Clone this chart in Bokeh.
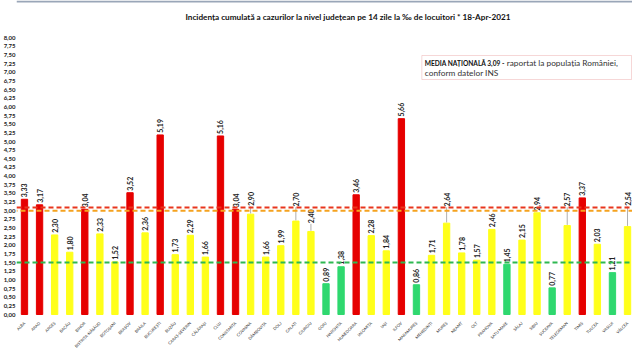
from math import pi
from bokeh.plotting import figure
from bokeh.models import (ColumnDataSource, Range1d, FixedTicker, Span, Label,
                          BoxAnnotation, CustomJSTickFormatter)
from bokeh.core.properties import value
from bokeh.embed import file_html
from bokeh.resources import INLINE

# ---------------- data ----------------
counties = ["ALBA", "ARAD", "ARGEȘ", "BACĂU", "BIHOR", "BISTRIȚA-NĂSĂUD",
            "BOTOȘANI", "BRAȘOV", "BRĂILA", "BUCUREȘTI", "BUZĂU",
            "CARAȘ-SEVERIN", "CĂLĂRAȘI", "CLUJ", "CONSTANȚA", "COVASNA",
            "DÂMBOVIȚA", "DOLJ", "GALAȚI", "GIURGIU", "GORJ", "HARGHITA",
            "HUNEDOARA", "IALOMIȚA", "IAȘI", "ILFOV", "MARAMUREȘ",
            "MEHEDINȚI", "MUREȘ", "NEAMȚ", "OLT", "PRAHOVA", "SATU MARE",
            "SĂLAJ", "SIBIU", "SUCEAVA", "TELEORMAN", "TIMIȘ", "TULCEA",
            "VASLUI", "VÂLCEA"]
incidence = [3.33, 3.17, 2.30, 1.80, 3.04, 2.33, 1.52, 3.52, 2.36, 5.19,
             1.73, 2.29, 1.66, 5.16, 3.04, 2.90, 1.66, 1.99, 2.70, 2.40,
             0.89, 1.38, 3.46, 2.28, 1.84, 5.66, 0.86, 1.71, 2.64, 1.78,
             1.57, 2.46, 1.45, 2.15, 2.94, 0.77, 2.57, 3.37, 2.03, 1.21,
             2.54]
national_avg = 3.09
red_threshold = 3.0
green_threshold = 1.5
y_ticks = [i * 0.25 for i in range(33)]

# ---------------- style / layout ----------------
RED, YELLOW, GREEN = "#e60000", "#ffff1a", "#2fd86f"
FONT = value("Lato")
label_lift = {"COVASNA": 3.14, "GALAȚI": 3.12, "GIURGIU": 2.64,
              "MUREȘ": 3.12, "TELEORMAN": 3.12, "VÂLCEA": 3.14}

W, H = 632, 351
PAGE_OFF = 0            # figure is rendered at the page origin
BORDER_L = 15
X_START, X_END = -0.53, 40.33
PX_PER_UNIT = 34.6
ZERO_PAGE_Y = 314
_fl, _fr = PAGE_OFF + BORDER_L, PAGE_OFF + W
_ft, _fb = PAGE_OFF, PAGE_OFF + H
Y_TOP = (ZERO_PAGE_Y - _ft) / PX_PER_UNIT
Y_BOTTOM = -(_fb - ZERO_PAGE_Y) / PX_PER_UNIT

def ax(px):
    return X_START + (px - _fl) * (X_END - X_START) / (_fr - _fl)
def ay(py):
    return (ZERO_PAGE_Y - py) / PX_PER_UNIT

def bar_color(v):
    if v > red_threshold:
        return RED
    if v >= green_threshold:
        return YELLOW
    return GREEN

xs = list(range(len(counties)))
labels = [f"{v:.2f}".replace(".", ",") for v in incidence]
label_y = [label_lift.get(c, v + 0.06) for c, v in zip(counties, incidence)]
src = ColumnDataSource(dict(x=xs, v=incidence, color=[bar_color(v) for v in incidence],
                            lab=labels, ly=label_y, name=counties,
                            ny=[ay(ZERO_PAGE_Y + 8)] * len(counties)))

lead = [(i, v, label_lift[c]) for i, (c, v) in enumerate(zip(counties, incidence)) if c in label_lift]
lead_src = ColumnDataSource(dict(x=[a for a, _, _ in lead], y0=[b + 0.02 for _, b, _ in lead],
                                 y1=[c - 0.02 for _, _, c in lead]))

p = figure(width=W, height=H, output_backend="svg", toolbar_location=None,
           x_range=Range1d(X_START, X_END), y_range=Range1d(Y_BOTTOM, Y_TOP),
           min_border_top=0, min_border_right=0, min_border_left=BORDER_L,
           min_border_bottom=0)
p.outline_line_color = None
p.xgrid.visible = False
p.ygrid.visible = False
p.xaxis.visible = False
p.background_fill_color = "white"

p.vbar(x="x", top="v", bottom=0, width=0.42, color="color", source=src)

p.segment(x0="x", y0="y0", x1="x", y1="y1", line_color="#9a9a9a", line_width=0.8, source=lead_src)

p.text(x="x", y="ly", text="lab", angle=pi / 2, text_align="left",
       text_baseline="middle", text_font=FONT, text_font_style="bold",
       text_font_size="7px", text_color="#222222", source=src)

# county names under the bars (category axis labels)
p.text(x="x", y="ny", text="name", angle=pi / 4, text_align="right",
       text_baseline="middle", text_font=FONT, text_font_size="4px",
       text_color="#333333", source=src)

# reference lines
p.add_layout(Span(location=red_threshold, dimension="width", line_color="#f5a21f",
                  line_width=2, line_dash="5 3", line_dash_offset=4))
p.add_layout(Span(location=national_avg, dimension="width", line_color="#e8361d",
                  line_width=2, line_dash="5 3"))
p.add_layout(Span(location=green_threshold, dimension="width", line_color="#2eb851",
                  line_width=2, line_dash="5 3"))
p.add_layout(Span(location=Y_TOP - 0.03, dimension="width", line_color="#9aa6b8", line_width=2))

# y axis
p.yaxis.ticker = FixedTicker(ticks=y_ticks)
p.yaxis.formatter = CustomJSTickFormatter(code="return tick.toFixed(2).replace('.', ',');")
p.yaxis.major_label_text_font_size = "6px"
p.yaxis.major_label_text_font = "Lato"
p.yaxis.major_label_text_font_style = "bold"
p.yaxis.major_label_text_color = "#222222"
p.yaxis.major_label_standoff = 1
p.yaxis.axis_line_color = None
p.yaxis.major_tick_line_color = None
p.yaxis.major_tick_out = 0
p.yaxis.major_tick_in = 0
p.yaxis.minor_tick_line_color = None

# title
p.add_layout(Label(x=ax(353), y=ay(16), text="Incidența cumulată a cazurilor la nivel județean pe 14 zile   la ‰ de locuitori   *   18-Apr-2021",
                   text_align="center", text_baseline="middle", text_font="Lato",
                   text_font_style="bold", text_font_size="8.2px", text_color="#111111"))

# national average note box
p.add_layout(BoxAnnotation(left=ax(421), right=ax(631), top=ay(55), bottom=ay(79),
                           fill_color="white", fill_alpha=1.0,
                           line_color="#e07a7a", line_width=1))
p.add_layout(Label(x=ax(424), y=ay(62), text="MEDIA NAȚIONALĂ 3,09 -", text_align="left",
                   text_baseline="middle", text_font="Lato", text_font_style="bold",
                   text_font_size="6.6px", text_color="#111111"))
p.add_layout(Label(x=ax(506), y=ay(62), text="raportat la populația României,", text_align="left",
                   text_baseline="middle", text_font="Lato",
                   text_font_size="8.3px", text_color="#333333"))
p.add_layout(Label(x=ax(424), y=ay(72.5), text="conform datelor INS", text_align="left",
                   text_baseline="middle", text_font="Lato",
                   text_font_size="8.3px", text_color="#333333"))

open("out.html", "w").write(file_html(p, INLINE))
